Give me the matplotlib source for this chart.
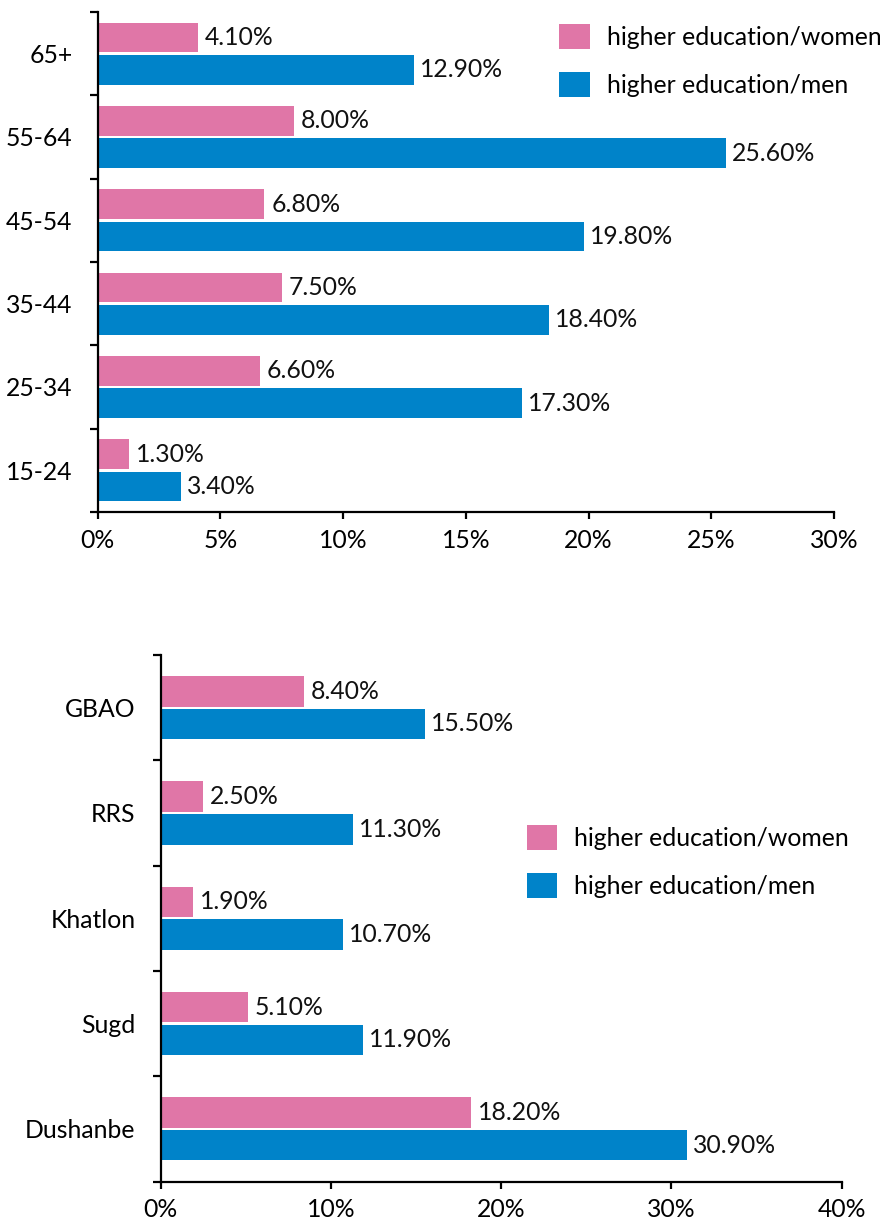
import matplotlib
matplotlib.use("Agg")
import matplotlib.pyplot as plt
import numpy as np

plt.rcParams['font.family'] = ['Lato', 'DejaVu Sans']

# ---- data ----
age_groups = ["15-24", "25-34", "35-44", "45-54", "55-64", "65+"]
age_women = [1.3, 6.6, 7.5, 6.8, 8.0, 4.1]
age_men = [3.4, 17.3, 18.4, 19.8, 25.6, 12.9]
age_xticks = [0, 5, 10, 15, 20, 25, 30]

regions = ["Dushanbe", "Sugd", "Khatlon", "RRS", "GBAO"]
reg_women = [18.2, 5.1, 1.9, 2.5, 8.4]
reg_men = [30.9, 11.9, 10.7, 11.3, 15.5]
reg_xticks = [0, 10, 20, 30, 40]

series_labels = ["higher education/women", "higher education/men"]
PINK = "#E076A7"
BLUE = "#0083C9"

W, H = 880, 1223
DPI = 100
FS = 17.8

fig = plt.figure(figsize=(W / DPI, H / DPI), dpi=DPI)


def add_axes_px(l, t, r, b):
    return fig.add_axes([l / W, 1 - b / H, (r - l) / W, (b - t) / H])


def draw(ax, cats, women, men, xticks, off, bh, leg_xy):
    y = np.arange(len(cats))
    bw = ax.barh(y + off, women, height=bh, color=PINK, label=series_labels[0])
    bm = ax.barh(y - off, men, height=bh, color=BLUE, label=series_labels[1])
    for v, yy in zip(women, y + off):
        ax.annotate(f"{v:.2f}%", xy=(v, yy), xytext=(7, 0), textcoords="offset pixels",
                    ha="left", va="center", fontsize=FS, color="#111111")
    for v, yy in zip(men, y - off):
        ax.annotate(f"{v:.2f}%", xy=(v, yy), xytext=(6, 0), textcoords="offset pixels",
                    ha="left", va="center", fontsize=FS, color="#111111")
    ax.set_ylim(-0.5, len(cats) - 0.5)
    ax.set_xlim(xticks[0], xticks[-1])
    ax.set_xticks(xticks)
    ax.set_xticklabels([f"{t}%" for t in xticks], fontsize=FS)
    ax.set_yticks(y)
    ax.set_yticklabels(cats, fontsize=FS)
    ax.set_yticks(np.arange(len(cats) + 1) - 0.5, minor=True)
    ax.tick_params(axis="y", which="major", length=0, pad=18)
    ax.tick_params(axis="y", which="minor", length=6, width=1.6, direction="out")
    ax.tick_params(axis="x", which="major", length=5, width=1.6, direction="out", pad=7)
    for s in ("top", "right"):
        ax.spines[s].set_visible(False)
    for s in ("left", "bottom"):
        ax.spines[s].set_linewidth(1.6)
    ax.legend(handles=[bw, bm], loc="upper left", bbox_to_anchor=leg_xy,
              bbox_transform=fig.transFigure, frameon=False, fontsize=FS,
              handlelength=1.25, handleheight=1.2, handletextpad=0.68,
              labelspacing=0.9, borderpad=0, borderaxespad=0)


ax1 = add_axes_px(97.5, 12, 834, 512)
draw(ax1, age_groups, age_women, age_men, age_xticks, 0.195, 0.355,
     (559 / W, 1 - 24 / H))

ax2 = add_axes_px(160.7, 655, 841.7, 1181.5)
draw(ax2, regions, reg_women, reg_men, reg_xticks, 0.155, 0.29,
     (526.5 / W, 1 - 825 / H))

fig.savefig("out.png", dpi=DPI)
